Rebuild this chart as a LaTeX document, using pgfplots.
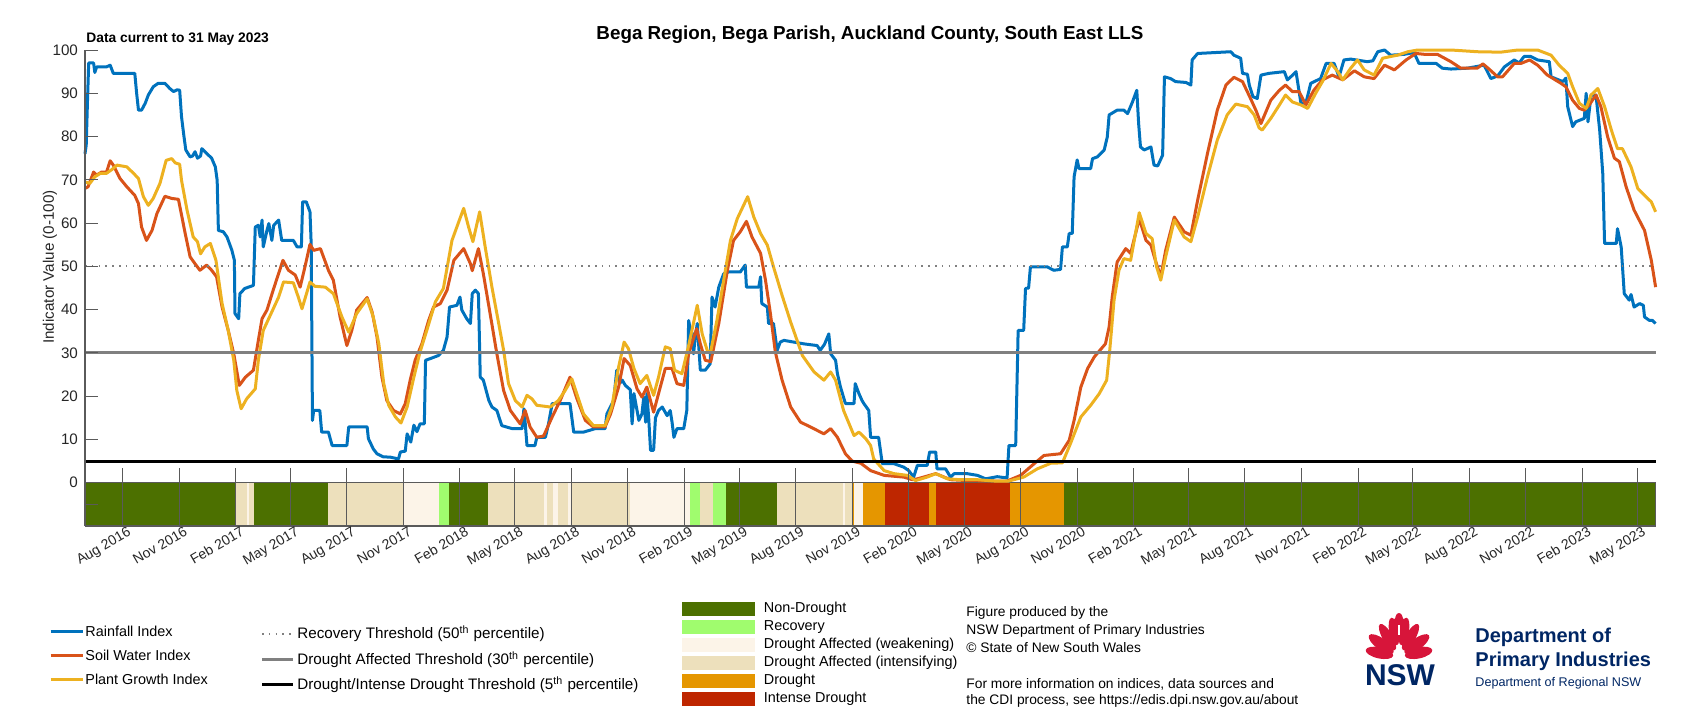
\documentclass[border=0pt]{standalone}
\usepackage{fontspec}
\setmainfont{Liberation Sans}
\usepackage{pgfplots}
\pgfplotsset{compat=1.18}
\definecolor{rain}{RGB}{0,114,189}
\definecolor{soil}{RGB}{217,83,25}
\definecolor{plant}{RGB}{237,177,32}
\definecolor{cND}{RGB}{76,112,0}
\definecolor{cR}{RGB}{160,252,110}
\definecolor{cW}{RGB}{252,244,232}
\definecolor{cI}{RGB}{237,224,188}
\definecolor{cD}{RGB}{229,150,0}
\definecolor{cID}{RGB}{190,38,0}
\definecolor{axgray}{RGB}{90,90,90}
\definecolor{nswred}{RGB}{215,21,58}
\definecolor{nswnavy}{RGB}{0,38,100}
\newcommand{\fs}[1]{\fontsize{#1}{#1}\selectfont}
\newcommand{\seg}[3]{\addplot[fill=#3, draw=none, forget plot] coordinates {(#1,-10)(#1,0)(#2,0)(#2,-10)};}
\begin{document}
\begin{tikzpicture}
\path[use as bounding box] (0,0) rectangle (853.5pt,360pt);
\begin{axis}[
  at={(42.5pt,97pt)}, anchor=south west,
  scale only axis, width=785.3pt, height=238pt,
  xmin=0, xmax=2555, ymin=-10, ymax=100,
  axis x line*=bottom, axis y line*=left,
  axis line style={draw=axgray, line width=0.6pt, -},
  axis on top, clip=false, no markers,
  tick align=inside,
  tick style={draw=axgray, line width=0.5pt},
  xtick style={/pgfplots/major tick length=29.2pt},
  ytick style={/pgfplots/major tick length=6.5pt},
  ytick={0,10,...,100},
  extra y ticks={-5}, extra y tick labels={},
  /pgf/number format/assume math mode=true,
  yticklabel style={font=\fs{7.6pt}, text=black!85},
  xtick={61,153,245,334,426,518,610,699,791,883,975,1064,1156,1248,1340,1430,1522,1614,1706,1795,1887,1979,2071,2160,2252,2344,2436,2525},
  xticklabels={Aug 2016,Nov 2016,Feb 2017,May 2017,Aug 2017,Nov 2017,Feb 2018,May 2018,Aug 2018,Nov 2018,Feb 2019,May 2019,Aug 2019,Nov 2019,Feb 2020,May 2020,Aug 2020,Nov 2020,Feb 2021,May 2021,Aug 2021,Nov 2021,Feb 2022,May 2022,Aug 2022,Nov 2022,Feb 2023,May 2023},
  xticklabel style={font=\fs{7pt}, text=black!85, rotate=30, anchor=north east, inner sep=1pt, xshift=3pt},
]
% status bar
\seg{0}{244}{cND}
\seg{244}{263}{cI}
\seg{263}{267}{cW}
\seg{267}{275}{cI}
\seg{275}{395.5}{cND}
\seg{395.5}{519}{cI}
\seg{519}{576}{cW}
\seg{576}{592}{cR}
\seg{592}{656}{cND}
\seg{656}{747}{cI}
\seg{747}{752}{cW}
\seg{752}{761}{cI}
\seg{761}{769}{cW}
\seg{769}{785}{cI}
\seg{785}{792}{cW}
\seg{792}{886}{cI}
\seg{886}{984}{cW}
\seg{984}{1000}{cR}
\seg{1000}{1005}{cI}
\seg{1005}{1021}{cI}
\seg{1021}{1043}{cR}
\seg{1043}{1125}{cND}
\seg{1125}{1233}{cI}
\seg{1233}{1236}{cW}
\seg{1236}{1249}{cI}
\seg{1249}{1251}{cD}
\seg{1251}{1265}{cW}
\seg{1265}{1301}{cD}
\seg{1301}{1373}{cID}
\seg{1373}{1384}{cD}
\seg{1384}{1504}{cID}
\seg{1504}{1592}{cD}
\seg{1592}{2555}{cND}
\addplot[draw=axgray, line width=0.6pt, forget plot] coordinates {(0,0)(2555,0)(2555,-10)};
% Rainfall Index
\addplot[rain, line width=1.5pt, line join=round] coordinates {
(0,76)(2,78)(4,88)(6,97)(14,97)(16,94.8)(19,96.1)(35,96.1)(41,96.5)(46,94.6)(81,94.6)(84,90)(87,86.1)(92,86.1)(98,87.7)(103,89.6)(111,91.5)(119,92.3)(130,92.3)(138,91.1)(144,90.4)(150,90.8)(154,90.7)(157,84.6)(161,80)(164,76.9)(171,75.3)(175,75.5)(179,76.5)(183,75)(188,75.5)(190,77.2)(198,76.1)(206,75)(212,73)(215,69.9)(217,58.3)(225,58)(231,56.8)(239,53.7)(243,51.4)(244,39.1)(250,37.9)(252,43.7)(260,44.9)(274,45.6)(277,59.1)(282,59.5)(285,56.8)(288,60.7)(290,54.5)(296,58.3)(299,59.9)(304,56)(307,59.5)(315,60.7)(320,56)(339,56)(345,54.5)(352,54.5)(354,64.9)(360,64.9)(366,62.6)(368,55)(370,14.4)(372,16.7)(382,16.7)(385,11.7)(396,11.7)(402,8.6)(426,8.6)(429,12.9)(459,12.9)(461,10.2)(469,7.8)(475,6.7)(485,6)(497,5.9)(510,5.5)(513,7.1)(521,7.3)(524,11.3)(530,9.4)(535,13.3)(540,11.8)(545,13.6)(552,13.6)(554,28.3)(562,28.7)(575,29.4)(583,30.6)(589,33.7)(593,40.6)(605,41)(610,42.9)(613,39.9)(621,37.9)(627,36.8)(630,43.7)(635,44.5)(640,43.7)(643,24.4)(648,23.7)(657,19)(662,17.5)(670,16.7)(678,13.2)(695,12.5)(711,12.5)(714,17.1)(716,14)(719,8.6)(732,8.6)(735,10.5)(749,10.5)(754,13.6)(760,18.3)(789,18.3)(795,11.7)(811,11.7)(830,12.5)(846,12.5)(849,15.9)(860,19)(865,26)(870,23)(874,23.7)(879,22.5)(887,21.5)(890,13.6)(893,20.6)(901,14.4)(906,15.9)(909,19.8)(912,14)(914,20.6)(917,15)(920,7.5)(925,7.5)(928,15)(933,16.7)(939,17.5)(947,15.5)(952,16.7)(955,14)(958,10.5)(963,12.5)(974,12.5)(979,16.7)(982,37.5)(985,35.2)(988,34.5)(990,29.8)(993,34)(996,36.8)(1001,26)(1009,26)(1017,27.5)(1020,42.9)(1025,40.6)(1031,45.2)(1039,48.3)(1047,48.7)(1066,48.7)(1074,50.3)(1076,45.2)(1096,45.2)(1099,47.6)(1101,41.4)(1110,40.6)(1112,36.8)(1120,36.8)(1126,30.6)(1131,32.5)(1137,32.9)(1169,32.1)(1191,31.7)(1196,30.6)(1203,32)(1210,34.4)(1213,29.8)(1221,28.3)(1224,25.2)(1229,22.1)(1237,18.3)(1251,18.3)(1253,22.9)(1259,20.6)(1264,19)(1267,18.3)(1275,16.7)(1278,10.5)(1291,10.5)(1297,4.4)(1316,4.4)(1332,3.6)(1340,2.8)(1348,1.3)(1354,4)(1370,4)(1374,7.1)(1384,7.1)(1386,3.2)(1400,3.2)(1408,1.3)(1414,2.1)(1435,2.1)(1452,1.7)(1465,0.9)(1484,1.4)(1500,1.1)(1503,8.6)(1514,8.6)(1518,35.2)(1527,35.2)(1530,44.9)(1535,45)(1538,49.9)(1565,49.9)(1576,49.1)(1587,49.3)(1590,54.5)(1598,54.5)(1601,57.6)(1606,57.6)(1609,70.7)(1614,74.6)(1617,72.6)(1636,72.6)(1639,74.9)(1647,75.3)(1658,76.9)(1663,79.9)(1666,85)(1679,86.1)(1690,86.1)(1696,85.3)(1704,88)(1711,90.7)(1714,83)(1717,77.6)(1723,76.9)(1734,77.6)(1739,73.4)(1745,73.2)(1753,75.7)(1756,93.8)(1766,93.4)(1774,92.7)(1791,92.5)(1799,91.9)(1801,97.7)(1810,99.2)(1837,99.4)(1864,99.6)(1869,98.8)(1880,98.1)(1883,94.6)(1891,94.4)(1894,91.9)(1900,89.2)(1907,88.8)(1913,94.2)(1926,94.6)(1951,95)(1956,93.1)(1963,94)(1970,95)(1978,87.7)(1986,87.7)(1994,92.3)(2010,93.4)(2019,96.9)(2032,96.9)(2040,93.8)(2048,97.7)(2059,97.9)(2086,97.3)(2095,97.5)(2103,99.6)(2114,100)(2124,98.8)(2146,99)(2162,99.4)(2170,96.9)(2198,96.9)(2208,95.8)(2222,95.6)(2249,95.8)(2276,96.5)(2287,93.4)(2298,94)(2309,96.1)(2325,97.7)(2333,97)(2341,98.5)(2352,98.5)(2363,97.7)(2382,97.3)(2385,93.8)(2404,92.7)(2409,93.5)(2412,86.9)(2420,82.3)(2425,83.4)(2439,84.2)(2442,90)(2445,83.4)(2450,89.6)(2458,89.6)(2464,81.5)(2469,71.5)(2472,55.3)(2491,55.3)(2493,58.7)(2499,54.5)(2504,43.7)(2512,42.2)(2515,43.5)(2520,40.6)(2529,41.4)(2535,41)(2537,38.3)(2545,37.5)(2550,37.5)(2555,36.8)};
% Soil Water Index
\addplot[soil, line width=1.5pt, line join=round] coordinates {
(0,68)(5,68.4)(14,71.8)(19,71.1)(27,71.8)(35,71.8)(41,74.4)(46,73.4)(57,70.3)(68,68.4)(81,66.4)(87,64.5)(92,59.1)(100,56)(109,58.3)(117,62.2)(130,66.2)(141,65.7)(152,65.5)(163,57.6)(171,52.2)(179,50.6)(187,49.1)(198,50.3)(206,49.1)(214,47.6)(223,40.6)(233,35.2)(242,29.8)(251,22.5)(261,24.4)(274,26)(282,32.9)(288,37.9)(296,39.9)(307,44.9)(322,51.4)(331,49.1)(342,48)(350,45.2)(358,50)(366,55.1)(372,53.7)(383,54.1)(396,49.1)(404,46.8)(415,38.3)(426,31.7)(434,35.2)(442,39.9)(459,42.8)(467,39.5)(475,33.7)(483,24.4)(491,19)(502,16.7)(513,15.9)(521,18.3)(529,23.7)(537,28.3)(548,32.1)(559,37.5)(567,40.6)(578,41.4)(589,44.5)(600,51.4)(616,54.1)(627,50.6)(630,49)(640,54.1)(648,48.3)(659,39.1)(670,29.8)(681,21.3)(692,16.7)(708,13.6)(716,16.7)(724,12.9)(735,10.5)(746,10.8)(760,15.2)(773,19)(789,24.4)(800,19.5)(814,14.4)(827,12.9)(846,12.9)(855,15.9)(868,22.1)(877,28.7)(887,27.1)(898,21.7)(906,19.8)(914,22.1)(925,16.3)(933,20.6)(944,26.4)(955,26.4)(963,22.9)(974,22.5)(982,29.8)(995,35.6)(1001,32.1)(1009,28.3)(1018,28)(1031,36.8)(1045,49.1)(1055,56)(1066,58)(1076,60.4)(1085,56.8)(1099,53)(1107,46.8)(1115,39.1)(1123,30.2)(1134,23.7)(1148,17.5)(1164,14)(1180,12.9)(1202,11.3)(1213,12.5)(1224,10.5)(1237,6.7)(1248,5)(1262,4.5)(1278,2.8)(1300,1.7)(1332,1.3)(1346,0.7)(1354,0.9)(1384,2.1)(1408,0.7)(1435,0.5)(1479,0.4)(1500,0.4)(1522,1.7)(1544,4.4)(1560,6.3)(1587,6.7)(1601,9.8)(1609,14.4)(1620,22.1)(1631,26.4)(1642,29.1)(1660,32.1)(1666,36)(1671,42.9)(1679,51)(1693,54.1)(1701,53)(1715,61)(1726,56)(1734,54.9)(1742,51)(1750,47.6)(1758,53.7)(1772,61.4)(1788,58)(1799,57.2)(1810,65.3)(1826,76.1)(1842,86.1)(1856,91.9)(1869,93.7)(1883,92.7)(1896,88.8)(1905,86)(1913,83)(1929,88.4)(1943,90.7)(1953,91.9)(1964,90.4)(1975,90.4)(1986,87.3)(1999,90.7)(2013,93.1)(2029,94.2)(2046,93.1)(2065,95.2)(2081,93.8)(2097,93.4)(2114,96.5)(2130,95.4)(2149,97.7)(2165,99.2)(2179,99)(2200,99)(2222,97.3)(2238,95.8)(2265,95.8)(2274,96.8)(2284,95.6)(2298,93.8)(2306,93.8)(2325,96.9)(2336,96.9)(2350,97.7)(2363,96.5)(2379,94.2)(2401,92.3)(2409,91.5)(2420,88.4)(2431,86.5)(2439,86.1)(2447,87.3)(2458,89.6)(2466,86.9)(2477,79.9)(2488,75)(2496,74.2)(2507,68.4)(2520,63)(2537,58.3)(2548,51.4)(2555,45.2)};
% Plant Growth Index
\addplot[plant, line width=1.5pt, line join=round] coordinates {
(0,69.5)(8,69.2)(16,70.7)(25,71.5)(35,71.5)(44,72.4)(52,73.4)(68,73)(79,71.5)(87,70.3)(95,66.1)(103,64.1)(111,65.7)(122,69.2)(132,74.5)(141,74.9)(147,73.9)(154,73.6)(157,69.9)(166,63)(176,56.8)(183,55.7)(188,52.9)(195,54.5)(204,55.3)(213,51.4)(223,41.4)(233,35.2)(242,28.3)(247,21.3)(254,17.1)(263,19.4)(277,21.7)(282,28.3)(290,35.2)(304,39.5)(315,42.9)(323,46.4)(339,46.2)(347,42.9)(353,40.2)(366,46.4)(374,45.4)(391,45.2)(404,43.7)(418,38.3)(429,34.8)(442,39.1)(459,42.5)(469,38.3)(478,32.1)(486,22.9)(494,17.9)(505,15.2)(514,13.8)(524,17.5)(535,24.4)(545,30.2)(556,35.2)(570,41.8)(583,44.9)(597,56)(608,60.3)(616,63.4)(624,59.1)(631,55.7)(642,62.6)(651,54.5)(662,45.2)(673,36.8)(681,30.6)(689,22.9)(700,19)(711,17.5)(719,20.2)(727,19.4)(735,17.9)(757,17.5)(770,19)(781,21.3)(792,24)(800,20.6)(811,15.9)(827,13.2)(846,13.2)(857,17.5)(868,26.7)(877,32.5)(884,31)(893,26.4)(903,22.9)(914,24.8)(925,20.2)(933,24.4)(944,31.4)(952,31)(959,26)(971,25.2)(982,31.7)(996,41)(1004,34.4)(1013,30.2)(1018,30.4)(1028,37.5)(1039,46.8)(1050,56)(1061,61)(1069,63.4)(1078,66.1)(1088,61.4)(1099,57.6)(1110,54.9)(1120,49.9)(1134,43.3)(1148,37.1)(1167,29.4)(1186,25.6)(1202,23.7)(1213,25.6)(1221,23.7)(1234,16.7)(1251,10.9)(1259,11.7)(1270,10.2)(1278,8.6)(1283,5.5)(1300,2.8)(1316,2.1)(1338,1.7)(1351,0.5)(1370,1.3)(1384,2.1)(1403,0.9)(1424,0.7)(1452,0.7)(1479,0.4)(1503,0.4)(1527,1.3)(1549,3.2)(1571,4.5)(1590,4.6)(1603,9)(1620,15.2)(1636,17.9)(1650,20.6)(1662,23.7)(1667,30.6)(1674,42.2)(1682,49.1)(1690,51.8)(1701,51.4)(1715,62.4)(1726,57.6)(1736,56.4)(1743,50)(1750,46.8)(1758,52.2)(1772,60.7)(1788,56.8)(1799,55.7)(1810,61.4)(1826,70.7)(1842,79.2)(1858,85)(1872,87.5)(1891,86.9)(1902,85)(1910,82)(1915,81.5)(1929,84.2)(1943,87.3)(1953,89.6)(1964,88)(1978,87.3)(1989,86.5)(2002,90)(2013,92.7)(2027,96.9)(2038,95)(2046,93.1)(2059,95.8)(2070,97.7)(2081,95.4)(2097,94.2)(2111,98.1)(2124,98.5)(2135,98.8)(2152,99.6)(2168,100)(2222,100)(2265,99.6)(2303,99.5)(2331,100)(2363,100)(2385,98.8)(2398,96.5)(2412,94.6)(2420,91.5)(2431,87.7)(2442,86.5)(2450,89.6)(2461,91.1)(2472,86.9)(2483,81.5)(2493,77.2)(2501,77.2)(2515,73)(2526,68)(2537,66.4)(2548,64.9)(2555,62.6)};
% thresholds
\addplot[gray, line width=0.9pt, dash pattern=on 0.8pt off 2.6pt] coordinates {(0,50)(2555,50)};
\addplot[gray, line width=1.5pt] coordinates {(0,30)(2555,30)};
\addplot[black, line width=1.5pt] coordinates {(0,5)(2555,5)};
\end{axis}
% titles
\node[font=\fs{9.4pt}\bfseries] at (435pt,342.5pt) {Bega Region, Bega Parish, Auckland County, South East LLS};
\node[font=\fs{6.9pt}\bfseries, anchor=west, inner sep=0pt] at (43pt,340.5pt) {Data current to 31 May 2023};
\node[font=\fs{7.6pt}, rotate=90, text=black!85] at (25pt,226.5pt) {Indicator Value (0-100)};
% legend 1
\begin{scope}[font=\fs{7.2pt}]
\draw[rain, line width=1.5pt] (25.25pt,44.15pt) -- (41.5pt,44.15pt);
\draw[soil, line width=1.5pt] (25.25pt,32.15pt) -- (41.5pt,32.15pt);
\draw[plant, line width=1.5pt] (25.25pt,20.5pt) -- (41.5pt,20.5pt);
\node[anchor=west, inner sep=0pt] at (42.5pt,44.15pt) {Rainfall Index};
\node[anchor=west, inner sep=0pt] at (42.5pt,32.15pt) {Soil Water Index};
\node[anchor=west, inner sep=0pt] at (42.5pt,20.5pt) {Plant Growth Index};
\end{scope}
% legend 2
\begin{scope}[font=\fs{7.6pt}]
\draw[gray, line width=0.9pt, dash pattern=on 0.8pt off 2.6pt] (131pt,43.2pt) -- (146.5pt,43.2pt);
\draw[gray, line width=1.5pt] (131pt,30.15pt) -- (146.5pt,30.15pt);
\draw[black, line width=1.5pt] (131pt,17.6pt) -- (146.5pt,17.6pt);
\node[anchor=west, inner sep=0pt] at (148.5pt,43.2pt) {Recovery Threshold (50\textsuperscript{th} percentile)};
\node[anchor=west, inner sep=0pt] at (148.5pt,30.15pt) {Drought Affected Threshold (30\textsuperscript{th} percentile)};
\node[anchor=west, inner sep=0pt] at (148.5pt,17.6pt) {Drought/Intense Drought Threshold (5\textsuperscript{th} percentile)};
\end{scope}
% legend 3
\begin{scope}[font=\fs{7.2pt}]
\fill[cND] (341pt,51.8pt) rectangle (377.5pt,59.2pt);
\fill[cR] (341pt,42.8pt) rectangle (377.5pt,50.2pt);
\fill[cW] (341pt,33.8pt) rectangle (377.5pt,41.2pt);
\fill[cI] (341pt,24.8pt) rectangle (377.5pt,32.2pt);
\fill[cD] (341pt,15.8pt) rectangle (377.5pt,23.2pt);
\fill[cID] (341pt,6.8pt) rectangle (377.5pt,14.2pt);
\node[anchor=west, inner sep=0pt] at (381.75pt,55.5pt) {Non-Drought};
\node[anchor=west, inner sep=0pt] at (381.75pt,46.5pt) {Recovery};
\node[anchor=west, inner sep=0pt] at (381.75pt,37.5pt) {Drought Affected (weakening)};
\node[anchor=west, inner sep=0pt] at (381.75pt,28.5pt) {Drought Affected (intensifying)};
\node[anchor=west, inner sep=0pt] at (381.75pt,19.5pt) {Drought};
\node[anchor=west, inner sep=0pt] at (381.75pt,10.5pt) {Intense Drought};
\end{scope}
% info text
\begin{scope}[font=\fs{6.9pt}]
\node[anchor=west, inner sep=0pt] at (483pt,53.5pt) {Figure produced by the};
\node[anchor=west, inner sep=0pt] at (483pt,44.65pt) {NSW Department of Primary Industries};
\node[anchor=west, inner sep=0pt] at (483pt,36pt) {© State of New South Wales};
\node[anchor=west, inner sep=0pt] at (483pt,18pt) {For more information on indices, data sources and};
\node[anchor=west, inner sep=0pt] at (483pt,9.65pt) {the CDI process, see https://edis.dpi.nsw.gov.au/about};
\end{scope}
% logo
\begin{scope}[shift={(699.5pt,31.5pt)}]
\foreach \a/\r/\w/\h in {-78/10/2.8/7, 78/10/2.8/7, -54/11/2.8/7.5, 54/11/2.8/7.5}
  \fill[nswred, rotate=\a] (0,\r pt) ellipse (\w pt and \h pt);
\foreach \a/\r/\w/\h in {-30/11.5/2.5/7.5, 30/11.5/2.5/7.5, -11/13/2.4/7, 11/13/2.4/7}
  \fill[nswred, rotate=\a] (0,\r pt) ellipse (\w pt and \h pt);
\fill[nswred] (0,14pt) ellipse (4.5pt and 6pt);
\fill[nswred] (0,18.5pt) ellipse (2pt and 3.5pt);
\fill[white] (-0.4pt,11pt) rectangle (0.4pt,16pt);
\end{scope}
\node[font=\fs{15pt}\bfseries, text=nswnavy, inner sep=0pt] at (700pt,22.5pt) {NSW};
\node[font=\fs{10pt}\bfseries, text=nswnavy, anchor=west, inner sep=0pt] at (737.5pt,41.5pt) {Department of};
\node[font=\fs{10pt}\bfseries, text=nswnavy, anchor=west, inner sep=0pt] at (737.5pt,29.5pt) {Primary Industries};
\node[font=\fs{6.3pt}, text=nswnavy, anchor=west, inner sep=0pt] at (737.5pt,18.5pt) {Department of Regional NSW};
\end{tikzpicture}
\end{document}
